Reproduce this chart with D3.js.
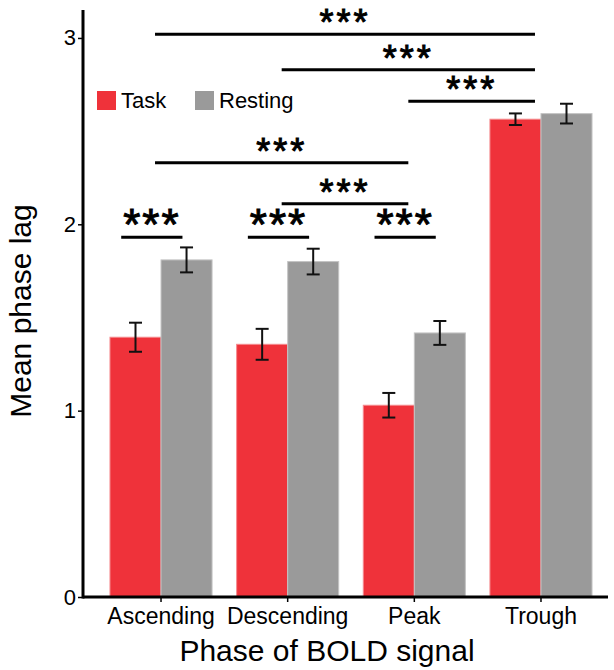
<!DOCTYPE html>
<html>
<head>
<meta charset="utf-8">
<script src="https://cdn.jsdelivr.net/npm/d3@7"></script>
<style>
  body { margin: 0; background: #fff; }
  svg { font-family: Arial, "Liberation Sans", sans-serif; }
</style>
</head>
<body>
<script>
// categories and series
var phases = ['Ascending', 'Descending', 'Peak', 'Trough'];
var conditions = ['Task', 'Resting'];

// mean phase lag
var taskMean = [1.394, 1.356, 1.029, 2.564];
var taskErr = [0.078, 0.083, 0.066, 0.031];
var restMean = [1.809, 1.800, 1.417, 2.594];
var restErr = [0.067, 0.069, 0.064, 0.053];

var yTicks = [0, 1, 2, 3];

// significance brackets between phases (level in data units)
var bracketFrom = ['Ascending', 'Descending', 'Peak', 'Ascending', 'Descending'];
var bracketTo = ['Trough', 'Trough', 'Trough', 'Peak', 'Peak'];
var bracketLevel = [3.02, 2.83, 2.66, 2.33, 2.11];

// task vs resting comparisons within a phase
var pairPhases = ['Ascending', 'Descending', 'Peak'];
var pairLevel = 1.93;

var colors = { Task: '#ef323a', Resting: '#9a9a9a' };
var edges = { Task: '#f58a8e', Resting: '#c4c4c4' };

function drawChart() {
  var width = 614;
  var height = 670;
  var left = 83, right = 619, top = 10, bottom = 597;

  var svg = d3.select('body').append('svg')
    .attr('width', width)
    .attr('height', height);

  // scales
  var x = d3.scaleBand()
    .domain(phases)
    .range([left, right])
    .paddingInner(0.194)
    .paddingOuter(0.213);

  var xSub = d3.scaleBand()
    .domain(conditions)
    .range([0, x.bandwidth()])
    .padding(0);

  var y = d3.scaleLinear()
    .domain([0, 3.15])
    .range([bottom, top]);

  // build rows for the bars
  var rows = [];
  phases.forEach(function (p, i) {
    rows.push({ phase: p, cond: 'Task', mean: taskMean[i], err: taskErr[i] });
    rows.push({ phase: p, cond: 'Resting', mean: restMean[i], err: restErr[i] });
  });

  // bars
  svg.append('g').selectAll('rect')
    .data(rows)
    .enter()
    .append('rect')
    .attr('x', function (d) { return x(d.phase) + xSub(d.cond); })
    .attr('y', function (d) { return y(d.mean); })
    .attr('width', xSub.bandwidth())
    .attr('height', function (d) { return y(0) - y(d.mean); })
    .attr('fill', function (d) { return colors[d.cond]; })
    .attr('stroke', function (d) { return edges[d.cond]; })
    .attr('stroke-width', 1);

  // error bars
  var eb = svg.append('g')
    .attr('stroke', '#111')
    .attr('stroke-width', 2)
    .selectAll('g')
    .data(rows)
    .enter()
    .append('g')
    .attr('transform', function (d) {
      return 'translate(' + (x(d.phase) + xSub(d.cond) + xSub.bandwidth() / 2) + ',0)';
    });
  var capW = 6.5;
  eb.append('line')
    .attr('y1', function (d) { return y(d.mean - d.err); })
    .attr('y2', function (d) { return y(d.mean + d.err); });
  eb.append('line')
    .attr('x1', -capW).attr('x2', capW)
    .attr('y1', function (d) { return y(d.mean + d.err); })
    .attr('y2', function (d) { return y(d.mean + d.err); });
  eb.append('line')
    .attr('x1', -capW).attr('x2', capW)
    .attr('y1', function (d) { return y(d.mean - d.err); })
    .attr('y2', function (d) { return y(d.mean - d.err); });

  // x axis
  var xAxis = svg.append('g')
    .attr('transform', 'translate(0,' + bottom + ')')
    .call(d3.axisBottom(x).tickSize(5).tickPadding(6));
  xAxis.select('.domain').remove();
  xAxis.selectAll('line').attr('stroke', '#000').attr('stroke-width', 1.5);
  xAxis.selectAll('text')
    .attr('fill', '#000')
    .style('font-size', '23px')
    .attr('font-family', null);
  svg.append('line')
    .attr('x1', left).attr('x2', 608)
    .attr('y1', bottom).attr('y2', bottom)
    .attr('stroke', '#000').attr('stroke-width', 3);

  // y axis
  var yAxis = svg.append('g')
    .attr('transform', 'translate(' + left + ',0)')
    .call(d3.axisLeft(y).tickValues(yTicks).tickFormat(d3.format('d')).tickSize(5).tickPadding(2));
  yAxis.select('.domain').remove();
  yAxis.selectAll('line').attr('stroke', '#000').attr('stroke-width', 1.5);
  yAxis.selectAll('text')
    .attr('fill', '#000')
    .style('font-size', '22px')
    .attr('font-family', null);
  svg.append('line')
    .attr('x1', left).attr('x2', left)
    .attr('y1', top).attr('y2', bottom + 1.5)
    .attr('stroke', '#000').attr('stroke-width', 3);

  // axis titles
  svg.append('text')
    .attr('x', 327)
    .attr('y', 661)
    .attr('text-anchor', 'middle')
    .style('font-size', '30px')
    .text('Phase of BOLD signal');

  svg.append('text')
    .attr('transform', 'translate(31,311) rotate(-90)')
    .attr('text-anchor', 'middle')
    .style('font-size', '30px')
    .text('Mean phase lag');

  // significance stars, glyph sits about 0.22em above the baseline
  function stars(cx, lineY, size, gap) {
    svg.append('text')
      .attr('x', cx)
      .attr('y', lineY - 7 + 0.22 * size)
      .attr('text-anchor', 'middle')
      .style('font-size', size + 'px')
      .style('letter-spacing', gap + 'px')
      .attr('stroke', '#000')
      .attr('stroke-width', 1)
      .text('***');
  }

  var sig = svg.append('g').attr('stroke', '#000').attr('stroke-width', 3);
  bracketFrom.forEach(function (f, i) {
    var x1 = x(f) + x.bandwidth() / 2 - 6;
    var x2 = x(bracketTo[i]) + x.bandwidth() / 2 - 6;
    var ly = y(bracketLevel[i]);
    sig.append('line')
      .attr('x1', x1).attr('x2', x2)
      .attr('y1', ly).attr('y2', ly);
    stars((x1 + x2) / 2, ly, 36, 3);
  });

  pairPhases.forEach(function (p) {
    var x1 = x(p) + x.bandwidth() * 0.11;
    var x2 = x(p) + x.bandwidth() * 0.71;
    var ly = y(pairLevel);
    sig.append('line')
      .attr('x1', x1).attr('x2', x2)
      .attr('y1', ly).attr('y2', ly);
    stars((x1 + x2) / 2, ly, 44, 2);
  });

  // legend
  var legend = svg.append('g').attr('transform', 'translate(97,91)');
  var legX = [0, 98];
  conditions.forEach(function (c, i) {
    legend.append('rect')
      .attr('x', legX[i]).attr('y', 0)
      .attr('width', 19).attr('height', 19)
      .attr('fill', colors[c]);
    legend.append('text')
      .attr('x', legX[i] + 24)
      .attr('y', 17)
      .style('font-size', '22px')
      .text(c);
  });
}

drawChart();
</script>
</body>
</html>
